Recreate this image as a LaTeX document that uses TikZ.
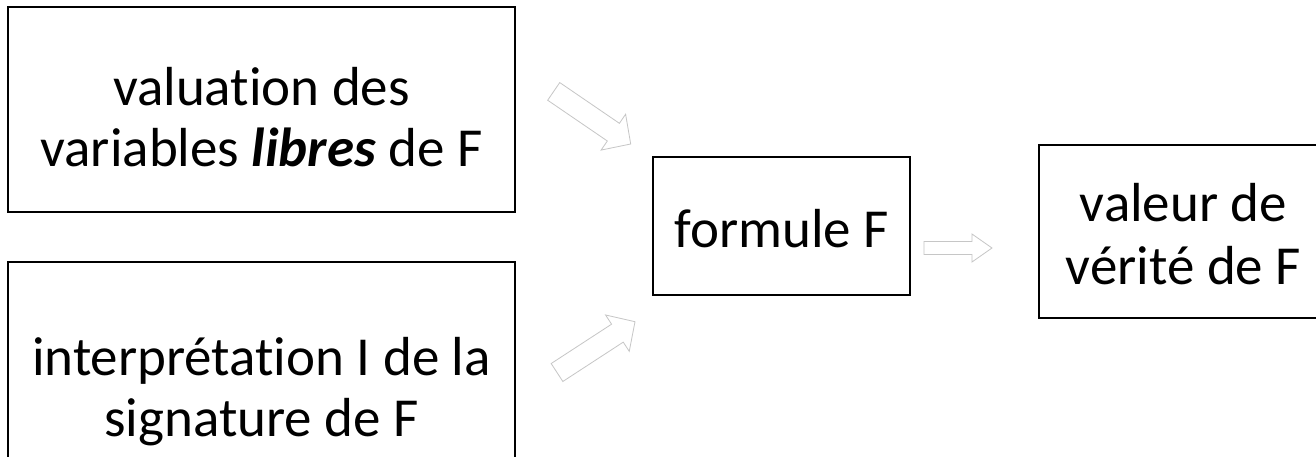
\documentclass[tikz,border=0pt]{standalone}
\usepackage{fontspec}
\setmainfont{Carlito}[Ligatures=NoCommon, Contextuals=NoAlternate, RawFeature=-clig]
\usetikzlibrary{calc}

\tikzset{
  panel/.style={draw=black, line width=1.8pt, inner sep=0pt},
  txt/.style={anchor=base, inner sep=0pt, font=\fontsize{55}{62}\selectfont},
  hollowarrow/.style={draw=gray!45, line width=0.8pt, line join=miter, fill=white}
}

% Outlined block arrow from tail #1 to tip #2:
% #3 shaft half-width, #4 head half-width, #5 head length
\newcommand\blockarrow[5]{%
  \coordinate (ba-m) at ($(#2)!#5!(#1)$);
  \draw[hollowarrow]
    ($(#1)!#3!90:(#2)$) -- ($(ba-m)!#3!90:(#2)$) -- ($(ba-m)!#4!90:(#2)$)
    -- (#2)
    -- ($(ba-m)!#4!-90:(#2)$) -- ($(ba-m)!#3!-90:(#2)$) -- ($(#1)!#3!-90:(#2)$)
    -- cycle;
}

\begin{document}
\begin{tikzpicture}[x=1pt, y=-1pt]
  \fill[white] (0,0) rectangle (1316,457);
  \clip (0,0) rectangle (1316,457);

  % input boxes
  \node[panel, minimum width=507pt, minimum height=205pt] (val) at (261.5,109.5) {};
  \node[txt] (val-l1) at (261.5,106) {valuation des};
  \node[txt] (val-l2) at (261.5,167) {variables \textbf{\textit{libres}} de F};

  \node[panel, minimum width=507pt, minimum height=225pt] (interp) at (261.5,374.5) {};
  \node[txt] (interp-l1) at (261.5,375) {interprétation I de la};
  \node[txt] (interp-l2) at (261.5,436) {signature de F};

  % formula
  \node[panel, minimum width=257pt, minimum height=138pt] (form) at (781.5,226) {};
  \node[txt] (form-l1) at (781.5,247) {formule F};

  % result
  \node[panel, minimum width=289pt, minimum height=173pt] (res) at (1183.5,231.5) {};
  \node[txt] (res-l1) at (1183.5,221) {valeur de};
  \node[txt] (res-l2) at (1183.5,284) {vérité de F};

  % hollow arrows
  \coordinate (a1-tail) at (553.7,91.4);
  \coordinate (a1-tip)  at (630.7,144);
  \blockarrow{a1-tail}{a1-tip}{10.7pt}{21.7pt}{21pt}

  \coordinate (a2-tail) at (557,372.5);
  \coordinate (a2-tip)  at (635,321.7);
  \blockarrow{a2-tail}{a2-tip}{10.7pt}{21.7pt}{21pt}

  \coordinate (a3-tail) at (924,248);
  \coordinate (a3-tip)  at (992,248);
  \blockarrow{a3-tail}{a3-tip}{6.5pt}{14pt}{20pt}
\end{tikzpicture}
\end{document}
